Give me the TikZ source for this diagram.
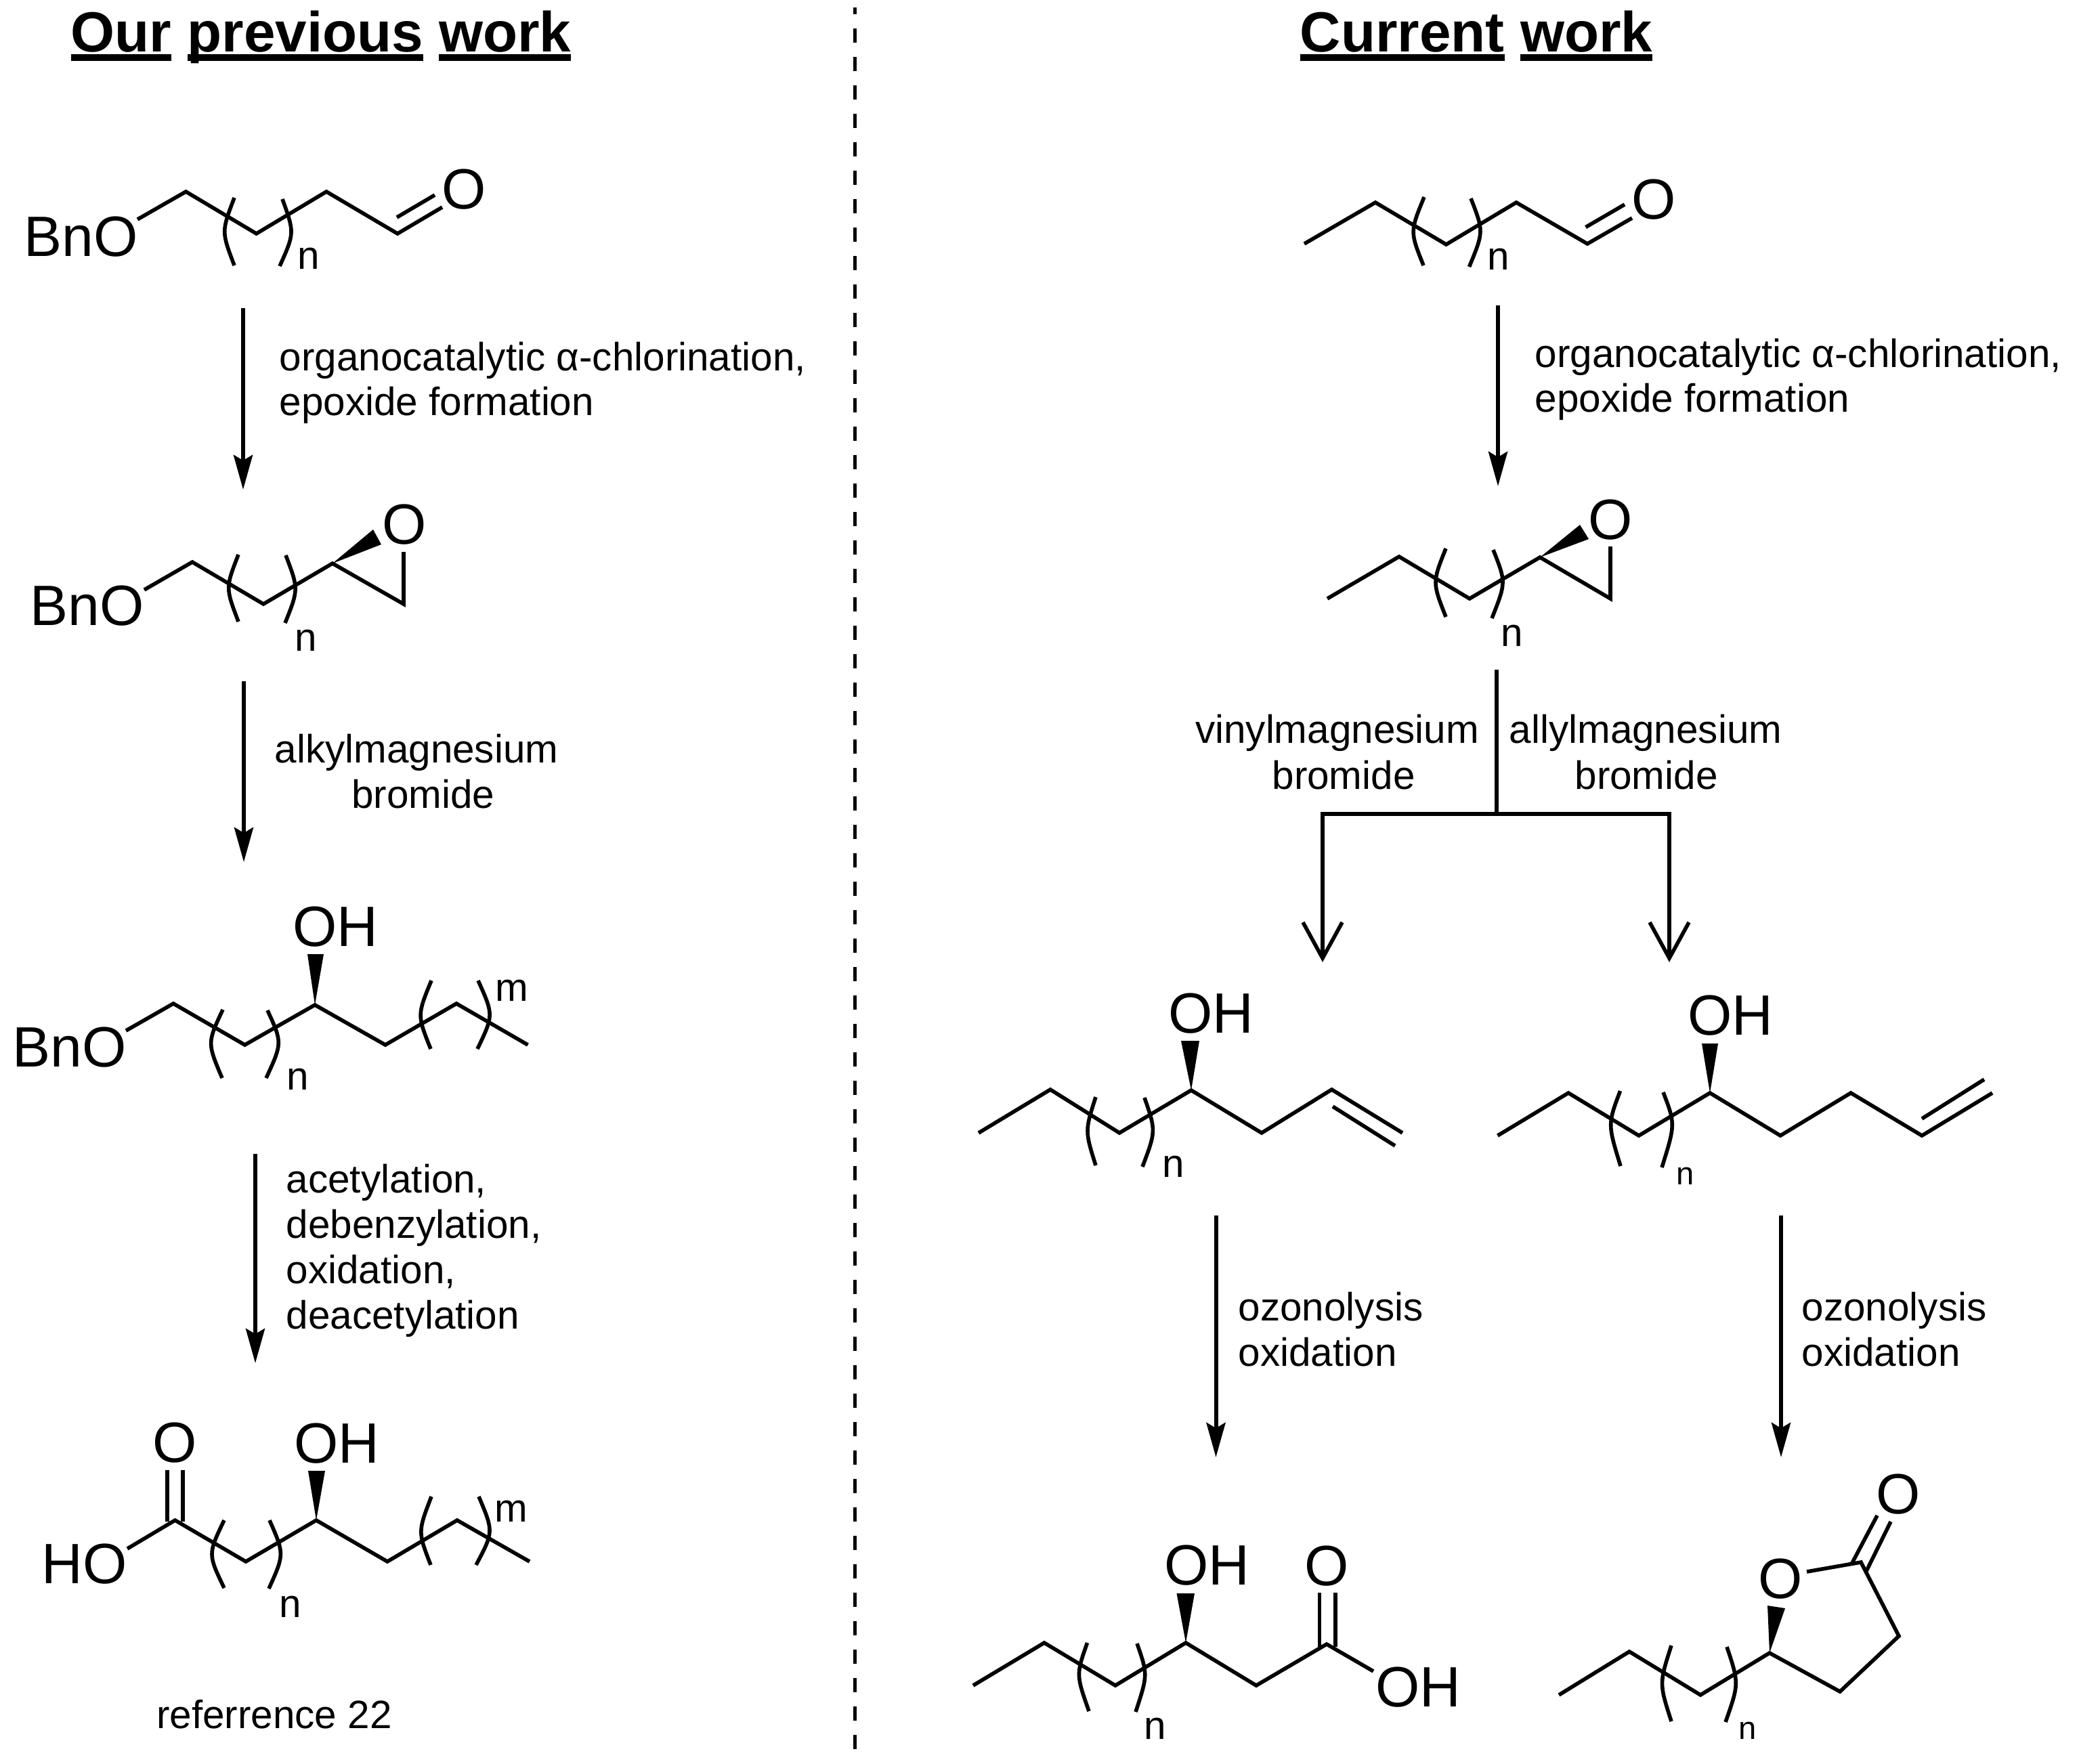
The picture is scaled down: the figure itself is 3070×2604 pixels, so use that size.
\documentclass[tikz,border=0pt]{standalone}
\usepackage{fontspec}
\setmainfont{Liberation Sans}
\usetikzlibrary{arrows.meta}
\newcommand{\ulw}[1]{\setbox0\hbox{#1}\rlap{\rule[-3.5pt]{\wd0}{2.5pt}}\box0\relax}
\tikzset{
  bond/.style={line width=1.4pt,line join=miter,line cap=butt},
  brk/.style={line width=1.4pt},
  wedge/.style={fill=black,draw=none},
  atom/.style={anchor=base,inner sep=0pt,font=\fontsize{21}{25}\selectfont},
  idx/.style={anchor=base,inner sep=0pt,font=\fontsize{14.6}{17}\selectfont},
  smallidx/.style={anchor=base,inner sep=0pt,font=\fontsize{11.8}{14}\selectfont},
  lab/.style={anchor=base west,inner sep=0pt,font=\fontsize{14.6}{17}\selectfont},
  clab/.style={anchor=base,inner sep=0pt,font=\fontsize{14.6}{17}\selectfont},
  head/.style={anchor=base,inner sep=0pt,font=\fontsize{20.9}{25}\selectfont\bfseries},
  rxn/.style={line width=1.5pt,-{Stealth[length=12.75pt,width=7pt,inset=2pt]}},
  stem/.style={line width=1.5pt},
  vee/.style={line width=1.4pt,line join=miter},
  divider/.style={line width=1.4pt,dash pattern=on 5.25pt off 5.25pt,dash phase=2.75pt}
}
\begin{document}
\begin{tikzpicture}[x=0.25pt,y=-0.25pt]
\useasboundingbox (0,0) rectangle (3070,2604);
\fill[white] (0,0) rectangle (3070,2604);

% headings and divider
\node[head] (h1) at (474,76) {\ulw{Our} \ulw{previous} \ulw{work}};
\node[head] (h2) at (2180,76) {\ulw{Current} \ulw{work}};
\coordinate (divT) at (1262.6,11);
\coordinate (divB) at (1262.6,2590);
\draw[divider] (divT) -- (divB);

% ---------- left column ----------
% aldehyde
\draw[bond] (203,324) -- (274.5,283) -- (378.6,345) -- (482,283) -- (587,345) -- (653,306);
\draw[bond] (586,321) -- (642,288);
\draw[brk] (346,292) .. controls (327,342) .. (346,392);
\draw[brk] (417,294) .. controls (435,344) .. (413,393);
\node[atom] (a1) at (119.5,378) {BnO};
\node[atom] (a1o) at (685,308) {O};
\node[idx] (a1n) at (456,397) {n};

% epoxide
\draw[bond] (213,871) -- (284,830) -- (389,892) -- (491,832) -- (596,892) -- (596,815);
\fill[wedge] (491,832) -- (551,782) -- (563,804) -- cycle;
\draw[brk] (352,819) .. controls (333,868) .. (352,918);
\draw[brk] (422,820) .. controls (441,870) .. (421,920);
\node[atom] (a2) at (129,923) {BnO};
\node[atom] (a2o) at (597,803) {O};
\node[idx] (a2n) at (452,961) {n};

% alcohol
\draw[bond] (186,1522) -- (256,1482) -- (361.5,1543) -- (465,1484) -- (569,1543) -- (674,1482) -- (779.5,1543);
\fill[wedge] (465,1484) -- (454,1409) -- (478,1409) -- cycle;
\draw[brk] (329,1491) .. controls (306,1540) .. (328,1592);
\draw[brk] (395,1492) .. controls (417,1540) .. (393,1592);
\draw[brk] (637,1448) .. controls (616,1499) .. (636,1549);
\draw[brk] (706,1448) .. controls (729,1499) .. (705,1549);
\node[atom] (a3) at (102.5,1575) {BnO};
\node[atom] (a3oh) at (495.5,1397) {OH};
\node[idx] (a3n) at (439.5,1609) {n};
\node[idx] (a3m) at (756,1478) {m};

% acid
\draw[bond] (188,2287) -- (258.5,2245) -- (363,2306) -- (467,2245) -- (572,2306) -- (675,2245) -- (782,2306);
\draw[bond] (247,2247) -- (247,2171);
\draw[bond] (270,2247) -- (270,2171);
\fill[wedge] (467,2245) -- (455,2172) -- (480,2172) -- cycle;
\draw[brk] (331,2245) .. controls (307,2295) .. (331,2345);
\draw[brk] (398,2245) .. controls (420,2295) .. (397,2346);
\draw[brk] (637,2210) .. controls (617,2262) .. (636,2311);
\draw[brk] (707,2210) .. controls (729,2262) .. (703,2311);
\node[atom] (a4) at (124.5,2338) {HO};
\node[atom] (a4o) at (258.5,2159) {O};
\node[atom] (a4oh) at (497,2160) {OH};
\node[idx] (a4n) at (429,2388) {n};
\node[idx] (a4m) at (754.5,2247) {m};
\node[clab] (ref) at (405,2552) {referrence 22};

% left arrows
\coordinate (la1s) at (359,455);  \coordinate (la1e) at (359,723);
\coordinate (la2s) at (360,1006); \coordinate (la2e) at (360,1273);
\coordinate (la3s) at (377,1704); \coordinate (la3e) at (377,2013);
\draw[rxn] (la1s) -- (la1e);
\draw[rxn] (la2s) -- (la2e);
\draw[rxn] (la3s) -- (la3e);
\node[lab] (t1a) at (412,547) {organocatalytic α-chlorination,};
\node[lab] (t1b) at (412,613) {epoxide formation};
\node[clab] (t2a) at (615,1126) {alkylmagnesium};
\node[clab] (t2b) at (625,1193) {bromide};
\node[lab] (t3a) at (422,1761) {acetylation,};
\node[lab] (t3b) at (422,1828) {debenzylation,};
\node[lab] (t3c) at (422,1895) {oxidation,};
\node[lab] (t3d) at (422,1962) {deacetylation};

% ---------- right column ----------
% aldehyde
\draw[bond] (1926,360) -- (2031,299) -- (2135.5,361) -- (2239,299) -- (2344,360) -- (2410,322);
\draw[bond] (2341.5,335.5) -- (2399,302);
\draw[brk] (2103,291) .. controls (2082,342) .. (2102,392);
\draw[brk] (2172,293) .. controls (2191,342) .. (2169.5,394);
\node[atom] (b1o) at (2442,323) {O};
\node[idx] (b1n) at (2213,398) {n};

% epoxide
\draw[bond] (1960,884) -- (2066,822) -- (2170,884) -- (2274,823) -- (2378,884) -- (2378,807);
\fill[wedge] (2274,823) -- (2333,775) -- (2346,796) -- cycle;
\draw[brk] (2135,810) .. controls (2115,860) .. (2135,911);
\draw[brk] (2205,812) .. controls (2224,860) .. (2203,913);
\node[atom] (b2o) at (2378,796) {O};
\node[idx] (b2n) at (2232.5,954) {n};

% branch
\coordinate (brT) at (2210,989);
\coordinate (brM) at (2210,1202);
\coordinate (brL) at (1953,1202);
\coordinate (brR) at (2465,1202);
\coordinate (tipL) at (1953,1415);
\coordinate (tipR) at (2465,1415);
\draw[stem] (brT) -- (brM);
\draw[stem,line cap=rect] (brL) -- (brR);
\draw[stem] (brL) -- (tipL);
\draw[stem] (brR) -- (tipR);
\draw[vee] ([xshift=-7.25pt,yshift=13.25pt]tipL) -- (tipL) -- ([xshift=7.25pt,yshift=13.25pt]tipL);
\draw[vee] ([xshift=-7.25pt,yshift=13.25pt]tipR) -- (tipR) -- ([xshift=7.25pt,yshift=13.25pt]tipR);
\node[clab] (t4a) at (1974.5,1097) {vinylmagnesium};
\node[clab] (t4b) at (1984,1165) {bromide};
\node[clab] (t5a) at (2430,1097) {allylmagnesium};
\node[clab] (t5b) at (2431,1165) {bromide};

% vinyl product
\draw[bond] (1445,1673) -- (1551,1609) -- (1653,1673) -- (1759,1610) -- (1863,1673) -- (1966.5,1609) -- (2071,1673);
\draw[bond] (1968,1634) -- (2060,1692);
\fill[wedge] (1759,1610) -- (1744,1537) -- (1771,1537) -- cycle;
\draw[brk] (1618,1620) .. controls (1602,1670) .. (1618,1721);
\draw[brk] (1690,1621) .. controls (1707,1670) .. (1687,1723);
\node[atom] (b3oh) at (1788,1525) {OH};
\node[idx] (b3n) at (1732.5,1738) {n};

% allyl product
\draw[bond] (2211.5,1677) -- (2316,1614) -- (2420,1677) -- (2525,1614) -- (2629,1677) -- (2733,1614) -- (2838,1677) -- (2942,1614);
\draw[bond] (2838,1652) -- (2930,1594);
\fill[wedge] (2525,1614) -- (2513,1541) -- (2537,1541) -- cycle;
\draw[brk] (2392.5,1611) .. controls (2374,1660) .. (2393,1722);
\draw[brk] (2456,1613) .. controls (2474,1660) .. (2454,1724);
\node[atom] (b4oh) at (2555.5,1528) {OH};
\node[smallidx] (b4n) at (2489,1749) {n};

% hydroxy acid
\draw[bond] (1437,2489) -- (1542,2426) -- (1647,2489) -- (1751,2426) -- (1855,2489) -- (1959,2428) -- (2028,2468);
\draw[bond] (1948.5,2432) -- (1948.5,2352);
\draw[bond] (1972,2432) -- (1972,2352);
\fill[wedge] (1751,2426) -- (1737.5,2353) -- (1764,2353) -- cycle;
\draw[brk] (1605.5,2426) .. controls (1589,2473) .. (1608,2527);
\draw[brk] (1679,2427) .. controls (1695,2473) .. (1677,2528);
\node[atom] (b5oh) at (1782,2340) {OH};
\node[atom] (b5o) at (1959,2341) {O};
\node[atom] (b5oh2) at (2094,2520) {OH};
\node[idx] (b5n) at (1706,2568) {n};

% lactone
\draw[bond] (2302,2503) -- (2406,2439) -- (2511,2503) -- (2613,2441) -- (2717,2498) -- (2804,2416) -- (2748,2307) -- (2668,2321);
\draw[bond] (2735,2308) -- (2772,2238);
\draw[bond] (2756,2320) -- (2792,2247);
\fill[wedge] (2613,2441) -- (2610,2371) -- (2636,2375) -- cycle;
\draw[brk] (2468,2430) .. controls (2450,2486) .. (2468,2542);
\draw[brk] (2550,2432) .. controls (2568,2486) .. (2548,2543);
\node[atom] (b6o) at (2629,2360) {O};
\node[atom] (b6co) at (2803,2235) {O};
\node[smallidx] (b6n) at (2581,2568) {n};

% right arrows
\coordinate (ra1s) at (2212,451);  \coordinate (ra1e) at (2212,718);
\coordinate (ra2s) at (1795.5,1795); \coordinate (ra2e) at (1795.5,2152);
\coordinate (ra3s) at (2630,1795);  \coordinate (ra3e) at (2630,2152);
\draw[rxn] (ra1s) -- (ra1e);
\draw[rxn] (ra2s) -- (ra2e);
\draw[rxn] (ra3s) -- (ra3e);
\node[lab] (t6a) at (2266,542) {organocatalytic α-chlorination,};
\node[lab] (t6b) at (2266,608) {epoxide formation};
\node[lab] (t7a) at (1828,1950) {ozonolysis};
\node[lab] (t7b) at (1828,2017) {oxidation};
\node[lab] (t8a) at (2660,1950) {ozonolysis};
\node[lab] (t8b) at (2660,2017) {oxidation};
\end{tikzpicture}
\end{document}
